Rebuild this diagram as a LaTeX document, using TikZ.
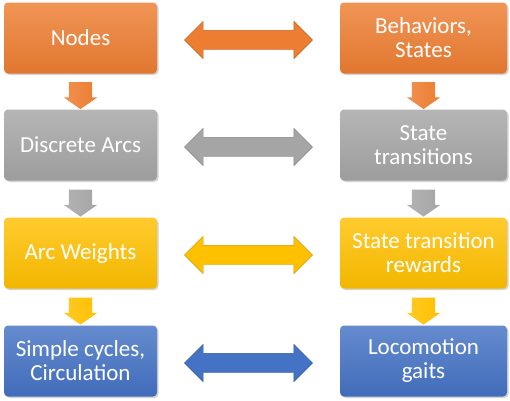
\documentclass[tikz,border=0pt]{standalone}
\usepackage{fontspec}
\setmainfont{Carlito}
\usetikzlibrary{shapes.arrows,shadows,positioning}
\definecolor{cor}{HTML}{ED7D31}
\definecolor{cgr}{HTML}{A5A5A5}
\definecolor{cgo}{HTML}{FFC000}
\definecolor{cbl}{HTML}{4472C4}
\tikzset{
  box/.style={rounded corners=4pt, minimum height=71pt, align=center, text=white,
    font=\fontsize{23}{24}\selectfont, inner sep=2pt,
    top color=#1!82!white, bottom color=#1!95!black, draw=none,
    drop shadow={shadow xshift=1.5pt, shadow yshift=-1.5pt, opacity=0.35}},
  lbox/.style={box=#1, minimum width=153pt},
  rbox/.style={box=#1, minimum width=167pt},
  harrow/.style={double arrow, minimum height=128pt, inner xsep=0pt, inner ysep=9.5pt,
    double arrow head extend=9pt, fill=#1, draw=#1!80!black, line width=0.4pt},
  varrow/.style={single arrow, rotate=-90, minimum height=27pt, inner xsep=0pt, inner ysep=11.5pt,
    single arrow head extend=5pt, single arrow tip angle=110,
    top color=#1!85!white, bottom color=#1, shading angle=90, draw=none}
}
\begin{document}
\begin{tikzpicture}[x=1pt,y=-1pt]
\useasboundingbox (0,0) rectangle (510,400);
\node[lbox=cor] (n1) at (80.5,38) {Nodes};
\node[lbox=cgr] (n2) at (80.5,145) {Discrete Arcs};
\node[lbox=cgo] (n3) at (80.5,253) {Arc Weights};
\node[lbox=cbl] (n4) at (80.5,361) {Simple cycles,\\Circulation};
\node[rbox=cor] (m1) at (423.5,38) {Behaviors,\\States};
\node[rbox=cgr] (m2) at (423.5,145) {State\\transitions};
\node[rbox=cgo] (m3) at (423.5,253) {State transition\\rewards};
\node[rbox=cbl] (m4) at (423.5,361) {Locomotion\\gaits};
\foreach \a/\b/\c in {n1/m1/cor,n2/m2/cgr,n3/m3/cgo,n4/m4/cbl}{
  \path (\a.east) -- node[harrow=\c, pos=0.5, yshift=-2pt] {} (\b.west);
}
\foreach \a/\b/\c in {n1/n2/cor,n2/n3/cgr,n3/n4/cgo,m1/m2/cor,m2/m3/cgr,m3/m4/cgo}{
  \path (\a.south) -- node[varrow=\c, pos=0.5] {} (\b.north);
}
\end{tikzpicture}
\end{document}
